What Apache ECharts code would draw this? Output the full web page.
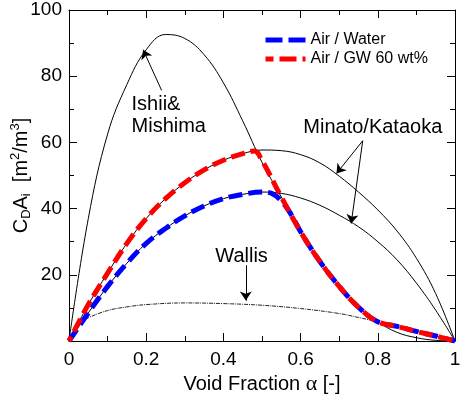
<!DOCTYPE html>
<html>
<head>
<meta charset="utf-8">
<script src="https://cdn.jsdelivr.net/npm/echarts@6/dist/echarts.min.js"></script>
<style>
  html, body { margin: 0; padding: 0; background: #fff; }
  #chart { width: 461px; height: 396px; }
</style>
</head>
<body>
<div id="chart"></div>
<script>
// NOTE - values (void fraction vs CD*Ai)
const alphaIM = [0, 0.05, 0.1, 0.15, 0.2, 0.25, 0.3, 0.35, 0.4, 0.45, 0.5, 0.55, 0.6, 0.65, 0.7, 0.75, 0.8, 0.85, 0.9, 0.95, 1]
const ishiiMishima = [0, 37, 62.5, 77.5, 88, 92.6, 91.4, 86.5, 78, 66.5, 54, 43.5, 33, 24, 16.5, 10.2, 5.8, 2.6, 1.0, 0.2, 0]

const alphaMK = [0, 0.05, 0.1, 0.15, 0.2, 0.25, 0.3, 0.35, 0.4, 0.45, 0.5, 0.55, 0.6, 0.65, 0.7, 0.75, 0.8, 0.85, 0.9, 0.95, 1]
const minatoHigh = [0, 11, 20.5, 29.5, 37, 43, 47.8, 51.7, 54.6, 56.6, 57.7, 57.5, 56.3, 53.8, 49.8, 45, 39.6, 33.2, 25, 14.3, 0]
const minatoLow = [0, 8.5, 16.5, 23.5, 29.5, 34, 37.8, 40.8, 43, 44.3, 45, 44.6, 43.2, 41, 38, 34.5, 30, 24.5, 17.5, 9.3, 0]

const alphaW = [0, 0.025, 0.05, 0.1, 0.15, 0.2, 0.3, 0.4, 0.5, 0.6, 0.7, 0.75, 0.8, 0.85, 0.9, 0.95, 1]
const wallis = [0, 5.2, 7, 9.2, 10.3, 11, 11.5, 11.3, 10.8, 9.8, 8.3, 7.1, 5.8, 4.4, 2.9, 1.5, 0]

const alphaWater = [0, 0.05, 0.1, 0.15, 0.2, 0.25, 0.3, 0.35, 0.4, 0.45, 0.5, 0.525, 0.55, 0.575, 0.6, 0.65, 0.7, 0.75, 0.8, 0.85, 0.9, 0.95, 1]
const airWater = [0, 8.5, 16.5, 23.5, 29.5, 34, 37.8, 40.8, 43, 44.3, 45, 44.6, 42.3, 38.3, 33, 24, 16.5, 10.2, 5.8, 4.4, 2.9, 1.5, 0]

const alphaGW = [0, 0.05, 0.1, 0.15, 0.2, 0.25, 0.3, 0.35, 0.4, 0.45, 0.48, 0.5, 0.55, 0.6, 0.65, 0.7, 0.75, 0.8, 0.85, 0.9, 0.95, 1]
const airGW = [0, 11, 20.5, 29.5, 37, 43, 47.8, 51.7, 54.6, 56.6, 57.4, 54.5, 43.5, 33, 24, 16.5, 10.2, 5.8, 4.4, 2.9, 1.5, 0]

const xTicks = [0, 0.2, 0.4, 0.6, 0.8, 1]
const yTicks = [0, 20, 40, 60, 80, 100]

// NOTE - annotation arrows [fromX, fromY, toX, toY] and labels, in data units
const arrows = [
    [0.24, 75.7, 0.192, 88],
    [0.761, 60.5, 0.693, 50.6],
    [0.761, 60.5, 0.731, 35.5],
    [0.458, 22.9, 0.458, 12.2],
]
const notes = [
    { text: 'Ishii&\nMishima', at: [0.162, 68], align: 'left' },
    { text: 'Minato/Kataoka', at: [0.787, 64.4], align: 'center' },
    { text: 'Wallis', at: [0.447, 25.6], align: 'center' },
]

const FONT = '"Liberation Sans", Arial, sans-serif'
const pairs = (xs, ys) => xs.map((x, i) => [x, ys[i]])

const thin = (data, extra) => Object.assign({
    type: 'line',
    data,
    smooth: 0.4,
    symbol: 'none',
    silent: true,
    z: 2,
    lineStyle: { color: '#000', width: 1 },
}, extra || {})

const axisCommon = {
    type: 'value',
    axisLine: { show: true, onZero: false, lineStyle: { color: '#000', width: 1 } },
    axisTick: { show: true, inside: true, length: 8, lineStyle: { color: '#000' } },
    minorTick: { show: true, splitNumber: 2, length: 5, lineStyle: { color: '#000' } },
    splitLine: { show: false },
}

const myChart = echarts.init(document.querySelector('#chart'))
const option = {
    animation: false,
    backgroundColor: '#fff',
    grid: { left: 69, right: 6, top: 10, bottom: 55, outerBoundsMode: 'none', containLabel: false },
    legend: {
        orient: 'vertical',
        left: 258,
        top: 27,
        itemWidth: 40,
        itemHeight: 14,
        itemGap: 3,
        data: ['Air / Water', 'Air / GW 60 wt%'],
        itemStyle: { color: 'rgba(0,0,0,0)', borderWidth: 0, opacity: 0 },
        lineStyle: { width: 5, type: [17, 6] },
        textStyle: { fontFamily: FONT, fontSize: 16, color: '#000' },
    },
    xAxis: [
        Object.assign({}, axisCommon, {
            position: 'bottom',
            min: xTicks[0],
            max: xTicks[xTicks.length - 1],
            interval: 0.2,
            axisLabel: { fontFamily: FONT, fontSize: 19, color: '#000', margin: 9 },
            name: '{t|Void Fraction }{a|α}{t| [-]}',
            nameLocation: 'middle',
            nameGap: 32,
            nameMoveOverlap: false,
            nameTextStyle: {
                rich: {
                    t: { fontFamily: FONT, fontSize: 20, color: '#000', lineHeight: 22 },
                    a: { fontFamily: '"Liberation Serif", serif', fontSize: 22, color: '#000', lineHeight: 22 },
                },
            },
        }),
        Object.assign({}, axisCommon, {
            position: 'top',
            min: xTicks[0],
            max: xTicks[xTicks.length - 1],
            interval: 0.2,
            axisLabel: { show: false },
        }),
    ],
    yAxis: [
        Object.assign({}, axisCommon, {
            position: 'left',
            min: yTicks[0],
            max: yTicks[yTicks.length - 1],
            interval: 20,
            axisLabel: {
                fontFamily: FONT, fontSize: 19, color: '#000', margin: 7,
                formatter: v => (v === 0 ? '' : v),
            },
            name: '{n|C}{s|D}{n|A}{s|i}{n|  [m}{p|2}{n|/m}{p|3}{n|]}',
            nameLocation: 'middle',
            nameGap: 36,
            nameMoveOverlap: false,
            nameTextStyle: {
                rich: {
                    n: { fontFamily: FONT, fontSize: 20, color: '#000', lineHeight: 24 },
                    s: { fontFamily: FONT, fontSize: 13, color: '#000', lineHeight: 13, verticalAlign: 'bottom' },
                    p: { fontFamily: FONT, fontSize: 13, color: '#000', lineHeight: 13, verticalAlign: 'top' },
                },
            },
        }),
        Object.assign({}, axisCommon, {
            position: 'right',
            min: yTicks[0],
            max: yTicks[yTicks.length - 1],
            interval: 20,
            axisLabel: { show: false },
        }),
    ],
    series: [
        thin(pairs(alphaIM, ishiiMishima), {
            name: 'Ishii & Mishima',
            markLine: {
                silent: true,
                symbol: ['none', 'arrow'],
                symbolSize: 9,
                label: { show: false },
                lineStyle: { color: '#000', width: 1, type: 'solid' },
                data: arrows.map(a => [{ coord: [a[0], a[1]] }, { coord: [a[2], a[3]] }]),
            },
        }),
        thin(pairs(alphaMK, minatoHigh), { name: 'Minato high' }),
        thin(pairs(alphaMK, minatoLow), { name: 'Minato low' }),
        thin(pairs(alphaW, wallis), {
            name: 'Wallis',
            lineStyle: { color: '#222', width: 1, type: [4, 1, 1, 1] },
        }),
        {
            name: 'Air / Water',
            type: 'line',
            data: pairs(alphaWater, airWater),
            smooth: 0.4,
            symbol: 'none',
            z: 3,
            itemStyle: { color: '#0000ff' },
            lineStyle: { color: '#0000ff', width: 5, type: [14, 6], dashOffset: 0 },
        },
        {
            name: 'Air / GW 60 wt%',
            type: 'line',
            data: pairs(alphaGW, airGW),
            smooth: 0.4,
            symbol: 'none',
            z: 4,
            itemStyle: { color: '#ff0000' },
            lineStyle: { color: '#ff0000', width: 5, type: [14, 6], dashOffset: 9 },
        },
    ],
}
myChart.setOption(option)

// NOTE - text labels placed through the grid's own scale
const renderNotes = () => {
    const graphic = notes.map(n => {
        const p = myChart.convertToPixel({ gridIndex: 0 }, n.at)
        return {
            type: 'text',
            x: p[0],
            y: p[1],
            silent: true,
            style: {
                text: n.text,
                fontFamily: FONT,
                fontSize: 20,
                lineHeight: 22,
                fill: '#000',
                align: n.align,
                verticalAlign: 'middle',
            },
        }
    })
    myChart.setOption({ graphic })
}
renderNotes()
</script>
</body>
</html>
